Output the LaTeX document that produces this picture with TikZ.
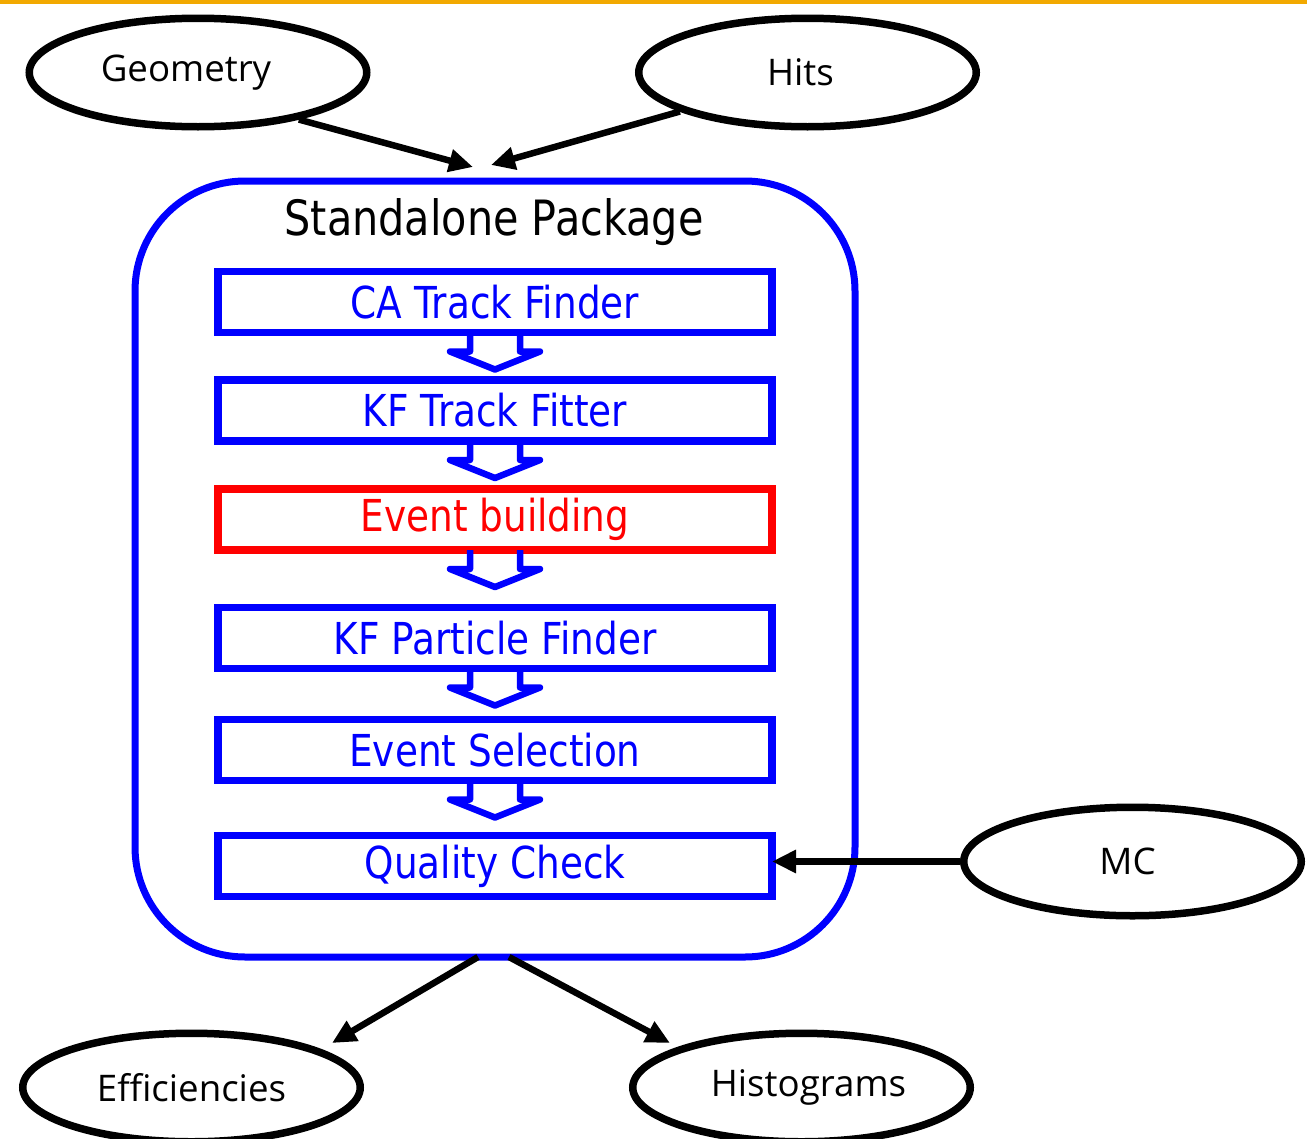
\documentclass[tikz,border=0pt]{standalone}
\usepackage{fontspec}
\setmainfont{Open Sans}
\newfontfamily\boxfont[FakeStretch=0.85]{DejaVu Sans}
\usetikzlibrary{arrows.meta,shapes.geometric}
\definecolor{pblue}{RGB}{0,0,255}
\definecolor{pred}{RGB}{255,0,0}
\definecolor{porange}{RGB}{242,169,0}
\begin{document}
\begin{tikzpicture}[x=0.75pt,y=-0.75pt,
  ell/.style={ellipse, draw=black, line width=7.5*0.75pt, minimum width=337.5*0.75pt,
    minimum height=108.5*0.75pt, inner sep=0pt, font=\fontsize{27.5}{30}\selectfont},
  stepbox/.style={rectangle, draw=pblue, text=pblue, line width=7.5*0.75pt,
    minimum width=554*0.75pt, minimum height=61*0.75pt, inner sep=0pt, outer sep=0pt,
    font=\boxfont\fontsize{33}{36}\selectfont},
  conn/.style={line width=6.5*0.75pt, -{Triangle[length=18pt,width=16.5pt]}},
  barrow/.style={draw=pblue, line width=6.5*0.75pt, line join=round}
]
\useasboundingbox (0,0) rectangle (1307,1139);
\fill[porange] (0,0) rectangle (1307,4);

% container
\node[draw=pblue, line width=7*0.75pt, rounded corners=110*0.75pt, minimum width=720*0.75pt,
  minimum height=776*0.75pt, inner sep=0pt, outer sep=0pt] (pkg) at (495,569) {};
\node[font=\boxfont\fontsize{36.5}{40}\selectfont] (title) at (494,222) {Standalone Package};

% steps
\node[stepbox] (ca)  at (495,302)   {CA Track Finder};
\node[stepbox] (kft) at (495,410.5) {KF Track Fitter};
\node[stepbox, draw=pred, text=pred] (eb) at (495,519.5) {Event building};
\node[stepbox] (kfp) at (495,638)   {KF Particle Finder};
\node[stepbox] (es)  at (495,750)   {Event Selection};
\node[stepbox] (qc)  at (495,866)   {Quality Check};

\foreach \a in {ca,kft,eb,kfp,es}{
  \draw[barrow] ([xshift=-25*0.75pt]\a.south) -- ++(0,19) -- ++(-20,0) -- ++(45,18)
    -- ++(45,-18) -- ++(-20,0) -- ++(0,-19);
}

% ellipses
\node[ell] (geo)  at (198,72.5)     {Geometry\kern18pt\relax};
\node[ell] (hits) at (807.5,72.5)   {Hits\kern10.5pt\relax};
\node[ell] (mc)   at (1132.5,861.5) {MC\kern7.5pt\relax};
\node[ell] (eff)  at (191.5,1087.5) {Efficiencies};
\node[ell] (hist) at (801.5,1087.5) {\kern10.5pt Histograms};

% connector ends
\coordinate (geoin)  at (473,167);
\coordinate (hitsin) at (491,165);
\coordinate (effin)  at (332,1043);
\coordinate (histin) at (670,1043);

\draw[conn] (geo.-25) -- (geoin);
\draw[conn] (hits.-163) -- (hitsin);
\draw[conn] (mc.west) -- (mc.west -| qc.east);
\draw[conn] ([xshift=-17*0.75pt]pkg.south) -- (effin);
\draw[conn] ([xshift=14*0.75pt]pkg.south) -- (histin);
\end{tikzpicture}
\end{document}
